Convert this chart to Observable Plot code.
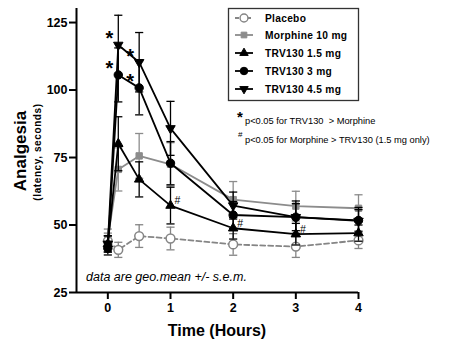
<!DOCTYPE html>
<html><head><meta charset="utf-8">
<script src="https://cdn.jsdelivr.net/npm/d3@7"></script>
<script src="https://cdn.jsdelivr.net/npm/@observablehq/plot@0.6"></script>
<style>
body{margin:0;background:#fff}
#chart svg{font-family:"Liberation Sans",Arial,sans-serif;overflow:visible}
</style>
</head><body><div id="chart"></div>
<script>
// ---- data ----
const times = [0, 0.167, 0.5, 1, 2, 3, 4];
const seriesNames = ["Placebo", "Morphine 10 mg", "TRV130 1.5 mg", "TRV130 3 mg", "TRV130 4.5 mg"];
const placeboMean  = [44.0, 40.8, 45.9, 45.0, 42.8, 42.0, 44.3];
const placeboSem   = [3.0, 2.8, 4.2, 4.2, 4.0, 4.0, 3.0];
const morphineMean = [45.0, 70.6, 75.6, 72.5, 59.4, 57.0, 56.2];
const morphineSem  = [3.5, 8.0, 8.3, 8.0, 6.7, 5.5, 5.0];
const trv15Mean    = [43.0, 80.1, 66.9, 57.2, 48.8, 46.6, 47.0];
const trv15Sem     = [3.0, 10.0, 6.5, 6.8, 4.0, 4.0, 3.0];
const trv3Mean     = [41.4, 105.6, 100.8, 72.9, 53.7, 52.9, 51.7];
const trv3Sem      = [2.5, 10.0, 10.0, 8.0, 5.0, 5.0, 4.0];
const trv45Mean    = [43.0, 116.7, 110.3, 85.8, 57.2, 52.9, 51.5];
const trv45Sem     = [3.0, 11.0, 11.0, 10.0, 5.0, 6.0, 5.0];
const xTicks = [0, 1, 2, 3, 4];
const yTicks = [25, 50, 75, 100, 125];
const starNotes = [
  {t: 0.167, series: "TRV130 4.5 mg"}, {t: 0.167, series: "TRV130 3 mg"},
  {t: 0.5, series: "TRV130 4.5 mg"}, {t: 0.5, series: "TRV130 3 mg"}
];
const hashNotes = [
  {t: 1, series: "TRV130 1.5 mg"}, {t: 2, series: "TRV130 1.5 mg"}, {t: 3, series: "TRV130 1.5 mg"}
];
const note1 = "p<0.05 for TRV130  > Morphine";
const note2 = "p<0.05 for Morphine > TRV130 (1.5 mg only)";
const footNote = "data are geo.mean +/- s.e.m.";
const xLabel = "Time (Hours)";
const yLabel = "Analgesia";
const yLabel2 = "(latency, seconds)";

// ---- table built from arrays ----
const means = [placeboMean, morphineMean, trv15Mean, trv3Mean, trv45Mean];
const sems = [placeboSem, morphineSem, trv15Sem, trv3Sem, trv45Sem];
const rows = [];
seriesNames.forEach((name, k) => times.forEach((t, i) => rows.push({
  series: name, t, y: means[k][i], lo: means[k][i] - sems[k][i], hi: means[k][i] + sems[k][i]
})));
const valueOf = (s, t) => rows.find(r => r.series === s && r.t === t).y;
const stars = starNotes.map(d => ({...d, y: valueOf(d.series, d.t)}));
const hashes = hashNotes.map(d => ({...d, y: valueOf(d.series, d.t)}));

// ---- styles ----
const styles = {
  "Placebo":        {color: "#858585", dash: "5,3", symbol: "circle", fill: "white", rotate: 0, r: 4.4},
  "Morphine 10 mg": {color: "#8c8c8c", dash: null, symbol: "square", fill: "#8c8c8c", rotate: 0, r: 3.6},
  "TRV130 1.5 mg":  {color: "#000", dash: null, symbol: "triangle", fill: "#000", rotate: 0, r: 3.5},
  "TRV130 3 mg":    {color: "#000", dash: null, symbol: "circle", fill: "#000", rotate: 0, r: 4.2},
  "TRV130 4.5 mg":  {color: "#000", dash: null, symbol: "triangle", fill: "#000", rotate: 180, r: 3.5}
};
const drawOrder = ["Morphine 10 mg", "Placebo", "TRV130 1.5 mg", "TRV130 3 mg", "TRV130 4.5 mg"];

const marks = [];
for (const name of drawOrder) {
  const st = styles[name];
  const data = rows.filter(r => r.series === name);
  marks.push(
    Plot.ruleX(data, {x: "t", y1: "lo", y2: "hi", stroke: st.color, strokeWidth: 1.3}),
    Plot.link(data, {x1: d => d.t - 0.065, x2: d => d.t + 0.065, y1: "hi", y2: "hi", stroke: st.color, strokeWidth: 1.3}),
    Plot.link(data, {x1: d => d.t - 0.065, x2: d => d.t + 0.065, y1: "lo", y2: "lo", stroke: st.color, strokeWidth: 1.3}),
    Plot.line(data, {x: "t", y: "y", stroke: st.color, strokeWidth: 1.8, strokeDasharray: st.dash}),
    Plot.dot(data, {x: "t", y: "y", symbol: st.symbol, r: st.r, fill: st.fill, stroke: st.color,
      strokeWidth: st.fill === "white" ? 1.5 : 1, rotate: st.rotate})
  );
}
marks.push(
  Plot.ruleY([25], {strokeWidth: 2}),
  Plot.ruleX([-0.5], {strokeWidth: 2}),
  Plot.axisY({ticks: yTicks, tickSize: 7, tickPadding: 2, strokeWidth: 2, fontSize: 12.5, fontWeight: "bold", label: null}),
  Plot.axisX({ticks: xTicks, tickFormat: d3.format("d"), tickSize: 7, tickPadding: 4, strokeWidth: 2, fontSize: 12.5, fontWeight: "bold", label: null}),
  Plot.text(stars, {x: "t", y: "y", text: () => "*", dx: -9, dy: -6, fontSize: 20, fontWeight: "bold"}),
  Plot.text(hashes, {x: "t", y: "y", text: () => "#", dx: 7, dy: -5, fontSize: 10.5})
);

const chart = Plot.plot({
  width: 449, height: 345,
  marginLeft: 76, marginRight: 91, marginTop: 8, marginBottom: 53,
  x: {domain: [-0.5, 4]},
  y: {domain: [25, 130.2]},
  marks
});
document.getElementById("chart").append(chart);

// ---- labels, legend, notes ----
const svg = d3.select(chart);
const txt = (x, y) => svg.append("text").attr("x", x).attr("y", y).attr("text-anchor", "start");
svg.append("text").attr("x", 217).attr("y", 336).attr("text-anchor", "middle")
  .attr("font-size", 16).attr("font-weight", "bold").text(xLabel);
svg.append("text").attr("transform", "translate(26,151) rotate(-90)").attr("text-anchor", "middle")
  .attr("font-size", 17).attr("font-weight", "bold").text(yLabel);
svg.append("text").attr("transform", "translate(41,152) rotate(-90)").attr("text-anchor", "middle")
  .attr("font-size", 10).attr("font-weight", "bold").attr("letter-spacing", "0.6").text(yLabel2);
txt(86, 281).attr("font-size", 12.5).attr("font-style", "italic").text(footNote);

txt(237, 122).attr("font-size", 15).attr("font-weight", "bold").text("*");
txt(245, 124).attr("font-size", 9.3).text(note1);
txt(238, 137).attr("font-size", 8).text("#");
txt(245, 143).attr("font-size", 9.3).text(note2);

const lg = svg.append("g");
lg.append("rect").attr("x", 228.5).attr("y", 8.5).attr("width", 130).attr("height", 92)
  .attr("fill", "white").attr("stroke", "#333").attr("stroke-width", 1.3);
const legendY = [18, 35, 53, 71, 89];
const symbolTypes = {circle: d3.symbolCircle, square: d3.symbolSquare, triangle: d3.symbolTriangle};
seriesNames.forEach((name, i) => {
  const st = styles[name];
  const y = legendY[i];
  lg.append("line").attr("x1", 235).attr("x2", 253).attr("y1", y).attr("y2", y)
    .attr("stroke", st.color).attr("stroke-width", 1.8).attr("stroke-dasharray", st.dash ? "4,2" : null);
  lg.append("path").attr("d", d3.symbol(symbolTypes[st.symbol], Math.PI * st.r * st.r * 0.8)())
    .attr("transform", `translate(244,${y}) rotate(${st.rotate})`)
    .attr("fill", st.fill).attr("stroke", st.color).attr("stroke-width", st.fill === "white" ? 1.4 : 1);
  lg.append("text").attr("x", 265).attr("y", y + 3.7).attr("text-anchor", "start")
    .attr("font-size", 10.2).attr("font-weight", "bold").attr("letter-spacing", "0.3").text(name);
});
</script>
</body></html>
